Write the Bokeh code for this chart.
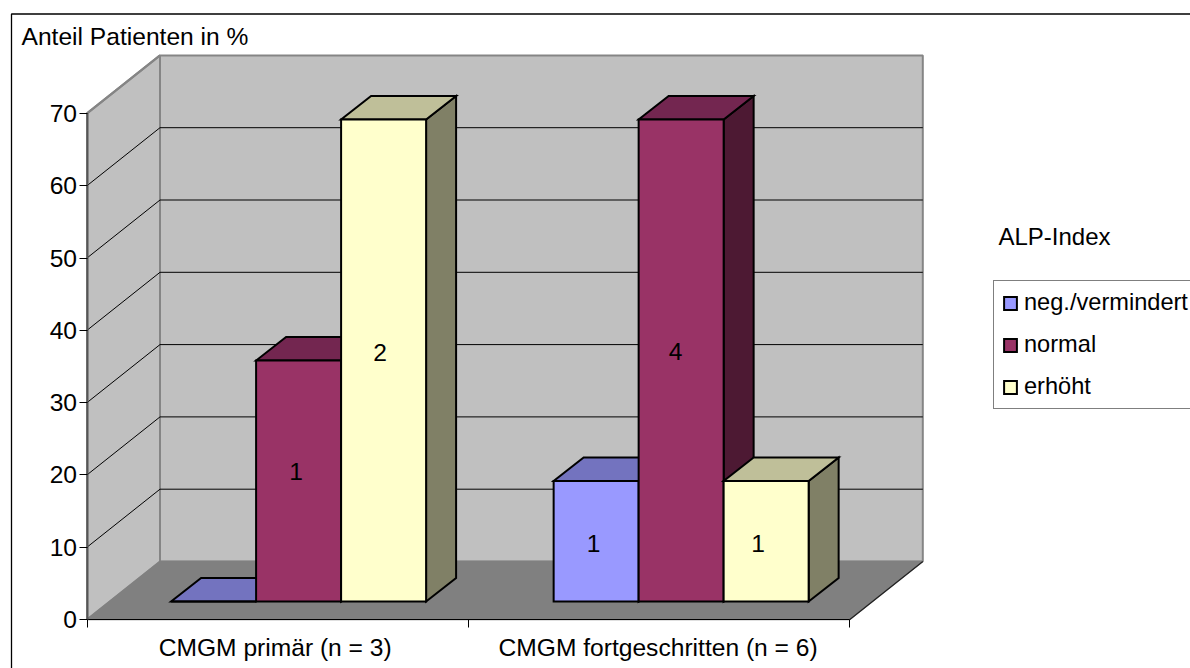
from bokeh.embed import file_html
from bokeh.resources import INLINE
from bokeh.core.properties import value
from bokeh.models import (ColumnDataSource, FixedTicker, Legend, LegendItem, LinearAxis,
                          Range1d)
from bokeh.plotting import figure

# Chart values: share of patients in percent, and the patient counts printed on the bars
categories = ["CMGM primär (n = 3)", "CMGM fortgeschritten (n = 6)"]
series_names = ["neg./vermindert", "normal", "erhöht"]
neg_vermindert = [0.0, 16.67]
normal = [33.33, 66.67]
erhoeht = [66.67, 16.67]
count_neg = ["", "1"]
count_normal = ["1", "4"]
count_erhoeht = ["2", "1"]
y_ticks = [0, 10, 20, 30, 40, 50, 60, 70]

# Canvas and projection of the pseudo-3D plot box
W, H = 1190, 668
FONT = "Liberation Sans"
TEXT_SIZE = "24.6px"
ORIGIN_X, ORIGIN_Y = 86.5, 619.0   # canvas position of the front-left floor corner
CAT_PX, UNIT_PX = 381.4, 7.23      # pixels per category and per percent
DEPTH_X, DEPTH_Y = 73 / CAT_PX, 58 / UNIT_PX
BAR_W = 85.0 / CAT_PX
BAR_DX, BAR_DY = 30 / CAT_PX, 23.5 / UNIT_PX
BAR_BASE = 18 / UNIT_PX
GROUP_START = [0.2205, 1.2235]
NAME_SHIFT = [-2.5 / CAT_PX, -1 / CAT_PX]


def cx(px):
    return (px - ORIGIN_X) / CAT_PX


def cy(py):
    return (ORIGIN_Y - py) / UNIT_PX


p = figure(width=W, height=H, output_backend="svg", toolbar_location=None,
           x_axis_type=None, y_axis_type=None, min_border=0,
           x_range=Range1d(cx(0), cx(W)), y_range=Range1d(cy(H), cy(0)),
           background_fill_color="white", border_fill_color="white", outline_line_color=None)
p.grid.visible = False

n_cat = len(categories)
top = y_ticks[-1]

# Surrounding chart border (open towards the right and bottom edges)
p.line([cx(11), cx(11), cx(W + 5)], [cy(H + 5), cy(13.5), cy(13.5)], line_color="black", line_width=1.3)

# Back wall, side wall and floor
WALL, FLOOR, EDGE = "#C0C0C0", "#808080", "#858585"
p.patch([DEPTH_X, n_cat + DEPTH_X, n_cat + DEPTH_X, DEPTH_X],
        [DEPTH_Y, DEPTH_Y, top + DEPTH_Y, top + DEPTH_Y],
        fill_color=WALL, line_color=EDGE, line_width=2)
p.patch([0, DEPTH_X, DEPTH_X, 0], [0, DEPTH_Y, top + DEPTH_Y, top],
        fill_color=WALL, line_color=EDGE, line_width=2)
p.patch([0, n_cat, n_cat + DEPTH_X, DEPTH_X], [0, 0, DEPTH_Y, DEPTH_Y],
        fill_color=FLOOR, line_color=FLOOR, line_width=1.5)
p.segment([n_cat], [0], [n_cat + DEPTH_X], [DEPTH_Y], line_color="#202020", line_width=1.1)

# Gridlines running along the side wall and across the back wall
grid_values = y_ticks[1:-1]
p.segment([0] * len(grid_values), grid_values, [DEPTH_X] * len(grid_values),
          [v + DEPTH_Y for v in grid_values], line_color="black", line_width=1)
p.segment([DEPTH_X] * len(grid_values), [v + DEPTH_Y for v in grid_values],
          [n_cat + DEPTH_X] * len(grid_values), [v + DEPTH_Y for v in grid_values],
          line_color="black", line_width=1)
# Top of the seventh interval on the back wall is hidden by the wall edge
p.segment([0], [top], [DEPTH_X], [top + DEPTH_Y], line_color=EDGE, line_width=2)

# Shaded cuboids: (front, top, side) colours for each series
series = [
    (neg_vermindert, ("#9999FF", "#7373BF", "#4D4D80")),
    (normal, ("#993366", "#732650", "#4D1933")),
    (erhoeht, ("#FFFFCC", "#BFBF99", "#808066")),
]
legend_renderers = [None, None, None]
for c in range(n_cat):
    for j, (vals, (front, lid, side)) in enumerate(series):
        x0 = GROUP_START[c] + j * BAR_W
        x1 = x0 + BAR_W
        y0 = BAR_BASE
        y1 = BAR_BASE + vals[c]
        p.patch([x1, x1 + BAR_DX, x1 + BAR_DX, x1],
                [y0, y0 + BAR_DY, y1 + BAR_DY, y1],
                fill_color=side, line_color="black", line_width=2, line_join="miter")
        p.patch([x0, x1, x1 + BAR_DX, x0 + BAR_DX],
                [y1, y1, y1 + BAR_DY, y1 + BAR_DY],
                fill_color=lid, line_color="black", line_width=2, line_join="miter")
        r = p.patch([x0, x1, x1, x0], [y0, y0, y1, y1],
                    fill_color=front, line_color="black", line_width=2, line_join="miter")
        if legend_renderers[j] is None:
            legend_renderers[j] = r

# Patient counts printed on the bars; the nudges are canvas pixels
counts = [count_neg, count_normal, count_erhoeht]
nudge_x = [[0, -2.5], [-2.5, -5.5], [-3.5, -8]]
nudge_y = [[0, -2.5], [10, 9], [8, -2.5]]
lx, ly, lt = [], [], []
for j, (vals, _) in enumerate(series):
    for c in range(n_cat):
        if counts[j][c]:
            lx.append(GROUP_START[c] + (j + 0.5) * BAR_W + nudge_x[j][c] / CAT_PX)
            ly.append(BAR_BASE + vals[c] / 2 + nudge_y[j][c] / UNIT_PX)
            lt.append(counts[j][c])
p.text("x", "y", "t", source=ColumnDataSource(dict(x=lx, y=ly, t=lt)),
       text_font=value(FONT), text_font_size=TEXT_SIZE, text_color="black",
       text_align="center", text_baseline="middle")

# Value axis, pinned to the front-left edge of the box
y_axis = LinearAxis(fixed_location=0, ticker=FixedTicker(ticks=y_ticks), bounds=(0, top))
y_axis.axis_line_color = "#555555"
y_axis.axis_line_width = 2
y_axis.major_tick_line_color = "black"
y_axis.major_tick_line_width = 1
y_axis.major_tick_in = 0
y_axis.major_tick_out = 8
y_axis.minor_tick_line_color = None
y_axis.major_label_standoff = 2
y_axis.major_label_text_font = FONT
y_axis.major_label_text_font_size = TEXT_SIZE
y_axis.major_label_text_color = "black"
p.add_layout(y_axis, "left")

# Category boundaries with tick marks and no labels of their own
x_axis = LinearAxis(fixed_location=0, ticker=FixedTicker(ticks=list(range(n_cat + 1))),
                    bounds=(0, n_cat))
x_axis.axis_line_color = "black"
x_axis.axis_line_width = 1.2
x_axis.major_tick_line_color = "black"
x_axis.major_tick_line_width = 1
x_axis.major_tick_in = 0
x_axis.major_tick_out = 8
x_axis.minor_tick_line_color = None
x_axis.major_label_text_color = None
p.add_layout(x_axis, "below")

# Category names placed between the boundaries
centres = [i + 0.5 + NAME_SHIFT[i] for i in range(n_cat)]
name_axis = LinearAxis(fixed_location=0, ticker=FixedTicker(ticks=centres),
                       major_label_overrides={c: n for c, n in zip(centres, categories)})
name_axis.axis_line_color = None
name_axis.major_tick_line_color = None
name_axis.minor_tick_line_color = None
name_axis.major_tick_in = 0
name_axis.major_tick_out = 0
name_axis.major_label_standoff = 14
name_axis.major_label_text_font = FONT
name_axis.major_label_text_font_size = TEXT_SIZE
name_axis.major_label_text_color = "black"
p.add_layout(name_axis, "below")

# Value-axis title and legend heading
p.text([cx(21)], [cy(35.5)], ["Anteil Patienten in %"], text_font=value(FONT), text_font_size=TEXT_SIZE,
       text_color="black", text_align="left", text_baseline="middle")
p.text([cx(998)], [cy(236)], ["ALP-Index"], text_font=value(FONT), text_font_size="24px",
       text_color="black", text_align="left", text_baseline="middle")

legend = Legend(
    items=[LegendItem(label=n, renderers=[r]) for n, r in zip(series_names, legend_renderers)],
    location=(993, H - 409),
    orientation="vertical",
    glyph_width=16, glyph_height=16,
    label_standoff=6, spacing=15, padding=8, margin=0,
    label_text_font=FONT, label_text_font_size="23.6px", label_text_color="black",
    label_height=20,
    border_line_color="black", border_line_width=1,
    background_fill_color="white", background_fill_alpha=1,
)
p.add_layout(legend, "center")

open("out.html", "w").write(file_html(p, INLINE))
